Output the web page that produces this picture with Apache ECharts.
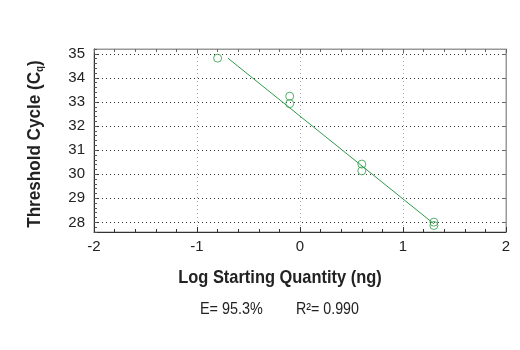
<!DOCTYPE html>
<html><head><meta charset="utf-8">
<script src="https://cdn.jsdelivr.net/npm/echarts@6/dist/echarts.min.js"></script>
<style>html,body{margin:0;padding:0;background:#fff}#c{width:520px;height:350px}</style>
</head><body><div id="c"></div>
<script>
// Data
const logQuantity = [-0.8, -0.1, -0.1, 0.6, 0.6, 1.3, 1.3];
const thresholdCycle = [34.82, 33.24, 32.93, 30.42, 30.14, 28.01, 27.87];
const fitX = [-0.7, 1.3];
const fitY = [34.82, 27.94];
const xTicks = [-2, -1, 0, 1, 2];
const yTicks = [28, 29, 30, 31, 32, 33, 34, 35];
const xTitle = 'Log Starting Quantity (ng)';
const yTitle = 'Threshold Cycle (C';
const yTitleSub = 'q';
const efficiencyText = 'E= 95.3%';
const r2Text = 'R²= 0.990';

const FONT = '"Liberation Sans", Arial, sans-serif';
const green = '#2f9a48';
const yMin = 27.6, yMax = 35.2;

const lab = { fontFamily: FONT, fontSize: 15, color: '#222' };
const chart = echarts.init(document.getElementById('c'));
chart.setOption({
  animation: false,
  grid: { left: 94, right: 14, top: 49, bottom: 118, show: true, borderColor: '#999', borderWidth: 1 },
  xAxis: [{
    type: 'value', min: xTicks[0], max: xTicks[xTicks.length - 1], interval: 1, position: 'bottom',
    axisLine: { show: true, onZero: false, lineStyle: { color: '#333', width: 1 } },
    axisTick: { show: true, inside: true, length: 5, lineStyle: { color: '#333' } },
    minorTick: { show: true, splitNumber: 5, length: 3, lineStyle: { color: '#333' } },
    axisLabel: Object.assign({ margin: 7 }, lab),
    splitLine: { show: true, lineStyle: { color: '#aaa', type: [1, 3] } }
  }, {
    type: 'value', min: xTicks[0], max: xTicks[xTicks.length - 1], interval: 1, position: 'top',
    axisLine: { show: true, onZero: false, lineStyle: { color: '#999', width: 1 } },
    axisTick: { show: true, inside: true, length: 4, lineStyle: { color: '#666' } },
    minorTick: { show: true, splitNumber: 5, length: 3, lineStyle: { color: '#666' } },
    axisLabel: { show: false }, splitLine: { show: false }
  }],
  yAxis: [{
    type: 'value', min: yMin, max: yMax, position: 'left',
    axisLine: { show: true, onZero: false, lineStyle: { color: '#333', width: 1 } },
    axisTick: { show: true, inside: true, length: 5, customValues: yTicks, lineStyle: { color: '#333' } },
    axisLabel: Object.assign({ margin: 9, customValues: yTicks }, lab),
    splitLine: { show: true, lineStyle: { color: '#333', type: [1, 3] } }
  }, {
    type: 'value', min: yMin, max: yMax, interval: 0.2, position: 'left',
    axisLine: { show: false, onZero: false },
    axisTick: { show: true, inside: true, length: 3, lineStyle: { color: '#555' } },
    axisLabel: { show: false }, splitLine: { show: false }
  }, {
    type: 'value', min: yMin, max: yMax, position: 'right',
    axisLine: { show: true, onZero: false, lineStyle: { color: '#999', width: 1 } },
    axisTick: { show: true, inside: true, length: 4, customValues: yTicks, lineStyle: { color: '#666' } },
    axisLabel: { show: false }, splitLine: { show: false }
  }],
  series: [
    {
      type: 'line', data: fitX.map((x, i) => [x, fitY[i]]), symbol: 'none',
      lineStyle: { color: green, width: 1 }, z: 2
    },
    {
      type: 'scatter', data: logQuantity.map((x, i) => [x, thresholdCycle[i]]),
      symbol: 'circle', symbolSize: 8,
      itemStyle: { color: 'rgba(0,0,0,0)', borderColor: green, borderWidth: 1 }, z: 3
    }
  ],
  graphic: [
    { type: 'text', x: 280, y: 278, scaleX: 0.865,
      style: { text: xTitle, fontFamily: FONT, fontWeight: 'bold', fontSize: 19, fill: '#222', align: 'center', verticalAlign: 'middle' } },
    { type: 'text', x: 35, y: 144, rotation: Math.PI / 2, scaleX: 0.9,
      style: { text: '{a|' + yTitle + '}{s|' + yTitleSub + '}{a|)}', align: 'center', verticalAlign: 'middle',
        rich: {
          a: { fontFamily: FONT, fontWeight: 'bold', fontSize: 19, fill: '#222' },
          s: { fontFamily: FONT, fontWeight: 'bold', fontSize: 11, fill: '#222', padding: [10, 0, 0, 0] }
        } } },
    { type: 'text', x: 200, y: 310, scaleX: 0.9,
      style: { text: efficiencyText, fontFamily: FONT, fontSize: 16, fill: '#222', verticalAlign: 'middle' } },
    { type: 'text', x: 296, y: 310, scaleX: 0.89,
      style: { text: r2Text, fontFamily: FONT, fontSize: 16, fill: '#222', verticalAlign: 'middle' } }
  ]
});
</script></body></html>
